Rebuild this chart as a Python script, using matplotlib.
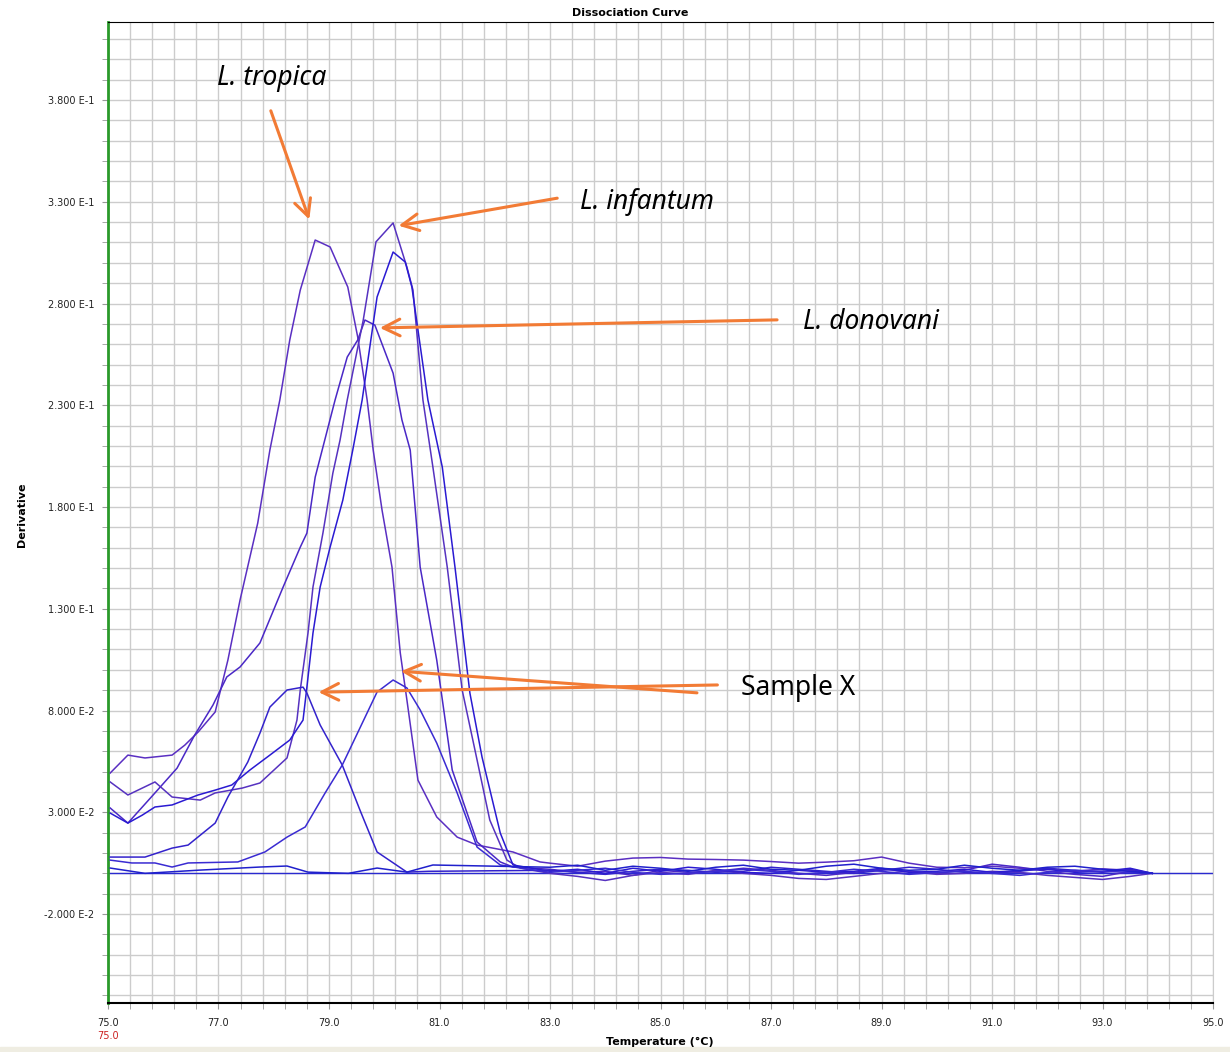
import matplotlib
matplotlib.use("Agg")
import matplotlib.pyplot as plt
import numpy as np

# Derivative melt curves, temperature in deg C, derivative values
tropica_t = [75.04, 75.36, 75.67, 76.16, 76.39, 76.63, 76.94, 77.17, 77.39, 77.71, 77.93, 78.11, 78.29, 78.48,
             78.75, 79.02, 79.34, 79.52, 79.69, 79.80, 79.96, 80.14, 80.29, 80.41, 80.61, 80.95, 81.32, 81.68,
             82.33, 82.82]
tropica_d = [0.0493, 0.0581, 0.0567, 0.0581, 0.0630, 0.0694, 0.0793, 0.1048, 0.1343, 0.1721, 0.2080, 0.2326,
             0.2621, 0.2866, 0.3112, 0.3078, 0.2881, 0.2635, 0.2326, 0.2080, 0.1785, 0.1505, 0.1083, 0.0852,
             0.0458, 0.0277, 0.0178, 0.0139, 0.0105, 0.0056]

donovani_t = [75.04, 75.36, 75.85, 76.25, 76.57, 76.90, 77.15, 77.39, 77.75, 78.17, 78.48, 78.60, 78.75, 79.11,
              79.33, 79.52, 79.65, 79.83, 80.16, 80.32, 80.47, 80.65, 80.95, 81.23, 81.68, 82.10, 82.33]
donovani_d = [0.0321, 0.0247, 0.0395, 0.0517, 0.0680, 0.0827, 0.0965, 0.1014, 0.1132, 0.1407, 0.1603, 0.1672,
              0.1947, 0.2326, 0.2537, 0.2621, 0.2719, 0.2694, 0.2458, 0.2228, 0.2080, 0.1505, 0.1048, 0.0508,
              0.0154, 0.0056, 0.0031]

infantum1_t = [75.04, 75.36, 75.85, 76.16, 76.67, 76.94, 77.43, 77.75, 78.24, 78.42, 78.48, 78.62, 78.71, 78.89,
               79.07, 79.20, 79.33, 79.62, 79.85, 80.16, 80.41, 80.52, 80.70, 80.88, 81.14, 81.41, 81.68, 81.91,
               82.22, 82.46]
infantum1_d = [0.0449, 0.0385, 0.0449, 0.0375, 0.0360, 0.0395, 0.0419, 0.0444, 0.0567, 0.0753, 0.0901, 0.1181,
               0.1407, 0.1672, 0.1967, 0.2129, 0.2326, 0.2719, 0.3103, 0.3196, 0.2979, 0.2866, 0.2326, 0.1997,
               0.1505, 0.0901, 0.0557, 0.0262, 0.0065, 0.0026]

infantum2_t = [75.04, 75.36, 75.62, 75.85, 76.16, 76.63, 76.94, 77.24, 77.57, 77.93, 78.29, 78.53, 78.60, 78.71,
               78.84, 79.02, 79.25, 79.43, 79.60, 79.87, 80.16, 80.38, 80.50, 80.79, 81.05, 81.28, 81.55, 81.77,
               82.10, 82.33]
infantum2_d = [0.0296, 0.0247, 0.0286, 0.0326, 0.0336, 0.0385, 0.0409, 0.0434, 0.0508, 0.0581, 0.0655, 0.0753,
               0.0915, 0.1181, 0.1407, 0.1603, 0.1834, 0.2080, 0.2326, 0.2832, 0.3053, 0.3004, 0.2881, 0.2326,
               0.1997, 0.1505, 0.0886, 0.0571, 0.0198, 0.0041]

samplex1_t = [75.04, 75.67, 76.16, 76.45, 76.94, 77.17, 77.53, 77.75, 77.93, 78.24, 78.53, 78.60, 78.84, 79.24,
              79.56, 79.87, 80.41, 80.80]
samplex1_d = [0.0080, 0.0080, 0.0124, 0.0139, 0.0247, 0.0375, 0.0547, 0.0689, 0.0817, 0.0901, 0.0915, 0.0886,
              0.0729, 0.0532, 0.0311, 0.0105, 0.0006, 0.0010]

samplex2_t = [75.04, 75.43, 75.85, 76.16, 76.45, 77.35, 77.84, 78.24, 78.57, 78.93, 79.24, 79.87, 80.16, 80.41,
              80.65, 80.95, 81.32, 81.68, 82.10]
samplex2_d = [0.0065, 0.0051, 0.0051, 0.0031, 0.0051, 0.0056, 0.0105, 0.0178, 0.0228, 0.0395, 0.0532, 0.0891,
              0.0950, 0.0911, 0.0803, 0.0640, 0.0395, 0.0129, 0.0041]

ntc_t = [75.04, 75.67, 76.67, 77.75, 78.24, 78.62, 79.35, 79.87, 80.41, 80.88]
ntc_d = [0.0026, 0.0000, 0.0016, 0.0031, 0.0036, 0.0006, 0.0000, 0.0026, 0.0006, 0.0041]

# noisy baseline after the melt
tail_t = [83.0, 83.5, 84.0, 84.5, 85.0, 85.5, 86.0, 86.5, 87.0, 87.5, 88.0, 88.5, 89.0, 89.5, 90.0, 90.5,
          91.0, 91.5, 92.0, 92.5, 93.0, 93.5, 93.9]
tropica_tail = [0.0050, 0.0035, 0.0060, 0.0075, 0.0078, 0.0070, 0.0068, 0.0065, 0.0058, 0.0050, 0.0055, 0.0062,
                0.0080, 0.0050, 0.0030, 0.0028, 0.0035, 0.0025, 0.0020, 0.0010, 0.0022, 0.0015, 0.0000]
donovani_tail = [0.0020, 0.0005, 0.0010, -0.0010, 0.0015, 0.0005, 0.0010, 0.0025, 0.0015, 0.0000, -0.0010, 0.0005,
                 0.0020, 0.0010, 0.0000, 0.0015, 0.0045, 0.0030, 0.0010, -0.0005, -0.0015, 0.0010, 0.0000]
infantum1_tail = [0.0000, -0.0015, -0.0035, -0.0010, 0.0005, -0.0005, 0.0015, 0.0000, -0.0010, -0.0025, -0.0030,
                  -0.0015, 0.0000, 0.0010, -0.0005, 0.0000, 0.0010, 0.0005, -0.0010, -0.0020, -0.0030, -0.0015, 0.0000]
infantum2_tail = [0.0010, 0.0020, 0.0000, 0.0025, 0.0010, 0.0030, 0.0020, 0.0005, 0.0000, 0.0015, 0.0005, 0.0010,
                  0.0025, 0.0005, 0.0010, 0.0020, 0.0005, 0.0015, 0.0020, 0.0005, 0.0010, 0.0025, 0.0000]
samplex1_tail = [0.0015, 0.0005, -0.0005, 0.0010, 0.0020, 0.0015, 0.0005, 0.0010, 0.0030, 0.0020, 0.0010, 0.0000,
                 0.0015, 0.0030, 0.0020, 0.0005, 0.0000, 0.0010, 0.0025, 0.0015, 0.0005, 0.0020, 0.0000]
samplex2_tail = [0.0005, 0.0015, 0.0025, 0.0005, -0.0005, 0.0000, 0.0010, 0.0020, 0.0010, -0.0005, 0.0005, 0.0020,
                 0.0010, -0.0005, 0.0005, 0.0010, 0.0000, -0.0010, 0.0005, 0.0015, 0.0010, 0.0005, 0.0000]
ntc_tail = [0.0030, 0.0040, 0.0015, 0.0035, 0.0025, 0.0010, 0.0030, 0.0040, 0.0020, 0.0015, 0.0035, 0.0045,
            0.0025, 0.0015, 0.0020, 0.0040, 0.0025, 0.0015, 0.0030, 0.0035, 0.0020, 0.0010, 0.0000]

ytick_vals = [-0.02, 0.03, 0.08, 0.13, 0.18, 0.23, 0.28, 0.33, 0.38]
ytick_labels = ["-2.000 E-2", "3.000 E-2", "8.000 E-2", "1.300 E-1", "1.800 E-1",
                "2.300 E-1", "2.800 E-1", "3.300 E-1", "3.800 E-1"]
xtick_vals = [75, 77, 79, 81, 83, 85, 87, 89, 91, 93, 95]

ORANGE = "#f27b35"
NARROW = ["Noto Sans", "DejaVu Sans"]

curves = [
    (tropica_t, tropica_d, tropica_tail, "#5a2fc2"),
    (donovani_t, donovani_d, donovani_tail, "#4a28c6"),
    (infantum1_t, infantum1_d, infantum1_tail, "#5632c0"),
    (infantum2_t, infantum2_d, infantum2_tail, "#2a1ad2"),
    (samplex1_t, samplex1_d, samplex1_tail, "#3322cc"),
    (samplex2_t, samplex2_d, samplex2_tail, "#3a2bd2"),
    (ntc_t, ntc_d, ntc_tail, "#2020cc"),
]

fig = plt.figure(figsize=(12.3, 10.52), dpi=100)
fig.patch.set_facecolor("white")
ax = fig.add_axes([0.0878, 0.0466, 0.8984, 0.9328])

ax.axhline(0, color="#2a2ad0", lw=1.0, zorder=2)
for t, d, tail, c in curves:
    ax.plot(list(t) + tail_t, list(d) + tail, color=c, lw=1.1, zorder=3)

ax.set_xlim(75, 95)
ax.set_ylim(-0.0637, 0.4185)

ax.set_xticks(xtick_vals)
ax.set_xticklabels([f"{v:.1f}" for v in xtick_vals])
ax.set_xticks(np.arange(75, 95.001, 0.4), minor=True)
ax.set_yticks(ytick_vals)
ax.set_yticklabels(ytick_labels)
ax.set_yticks(np.arange(-0.06, 0.4101, 0.01), minor=True)
ax.grid(True, which="both", color="#cccccc", lw=1.0, zorder=0)
ax.set_axisbelow(True)
ax.tick_params(which="both", length=4, color="#999999", labelsize=7, labelcolor="#222222")
ax.tick_params(axis="x", pad=7)
ax.tick_params(axis="y", pad=6)

ax.spines["left"].set_color("#2a9a2a")
ax.spines["left"].set_linewidth(2)
ax.spines["bottom"].set_color("black")
ax.spines["bottom"].set_linewidth(1.5)
ax.spines["top"].set_color("black")
ax.spines["right"].set_color("#cccccc")

ax.annotate("75.0", xy=(75, -0.0637), xytext=(0, -20), textcoords="offset points",
            color="#cc2222", fontsize=7, ha="center", va="top")

fig.text(630 / 1230, 1 - 13 / 1052, "Dissociation Curve", fontsize=8, fontweight="bold",
         ha="center", va="center")
fig.text(660 / 1230, 1 - 1042 / 1052, "Temperature (°C)", fontsize=8, fontweight="bold",
         ha="center", va="center")
fig.text(22 / 1230, 1 - 515 / 1052, "Derivative", fontsize=8, fontweight="bold",
         ha="center", va="center", rotation=90)

arrow = dict(arrowstyle="->", color=ORANGE, lw=2.2, mutation_scale=30)
ax.annotate("", xy=(78.66, 0.320), xytext=(77.93, 0.376), arrowprops=arrow)
ax.annotate("", xy=(80.21, 0.318), xytext=(83.18, 0.332), arrowprops=arrow)
ax.annotate("", xy=(79.87, 0.268), xytext=(87.16, 0.272), arrowprops=arrow)
ax.annotate("", xy=(78.76, 0.089), xytext=(86.08, 0.0926), arrowprops=arrow)
ax.annotate("", xy=(80.25, 0.0994), xytext=(85.71, 0.0886), arrowprops=arrow)

lab = dict(family=NARROW, fontstretch="extra-condensed", fontweight="light", fontsize=19, va="center")
ax.text(77.97, 0.391, "L. tropica", style="italic", ha="center", **lab)
ax.text(83.54, 0.330, "L. infantum", style="italic", ha="left", **lab)
ax.text(87.58, 0.271, "L. donovani", style="italic", ha="left", **lab)
ax.text(86.46, 0.091, "Sample X", ha="left", **lab)

fig.patches.append(plt.Rectangle((0, 0), 1, 5 / 1052, transform=fig.transFigure,
                                 color="#efede2", zorder=0))

fig.savefig("out.png", dpi=100)
